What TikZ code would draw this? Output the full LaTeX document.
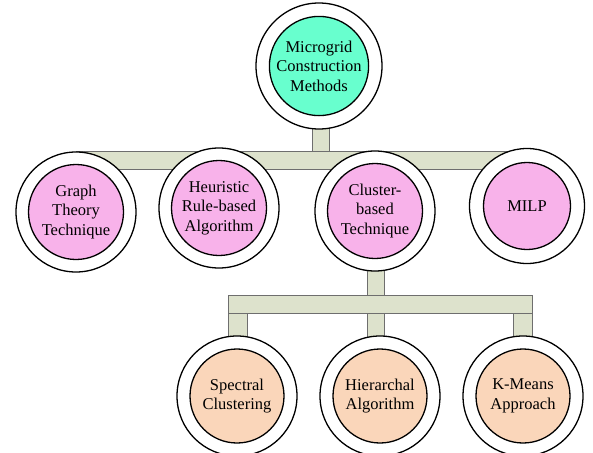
\documentclass[tikz,border=0pt]{standalone}
\usepackage{fontspec}
\setmainfont{Liberation Serif}
\definecolor{topfill}{RGB}{104,255,206}
\definecolor{midfill}{RGB}{248,178,234}
\definecolor{lowfill}{RGB}{250,214,186}
\definecolor{barfill}{RGB}{221,226,204}
\definecolor{barline}{RGB}{110,110,110}
\tikzset{
  ring/.style={circle, draw=black, line width=1.3pt, fill=white, inner sep=0pt},
  core/.style={circle, draw=black, line width=1.3pt, inner sep=0pt, align=center,
    font=\fontsize{16.5}{19.5}\selectfont, text=black},
  barpart/.style={fill=barfill, draw=barline, line width=0.8pt},
}
\begin{document}
\begin{tikzpicture}[x=1pt,y=-1pt]
\useasboundingbox (0,0) rectangle (593,452);

% connectors: stems and cross bars
\draw[barpart] (312,120) rectangle (329,152);
\draw[barpart] (76,151) rectangle (527,169);
\draw[barpart] (367,260) rectangle (384,295);
\draw[barpart] (228,313) rectangle (247,345);
\draw[barpart] (367,313) rectangle (384,345);
\draw[barpart] (513,313) rectangle (532,345);
\draw[barpart] (228,295) rectangle (532,313);

% root
\node[ring, minimum size=126pt] (rootR) at (319,66) {};
\node[core, fill=topfill, minimum size=88pt] (root) at (319,66) {Microgrid\\Construction\\Methods};

% second level
\node[ring, minimum size=120pt] (graphR) at (76,212) {};
\node[core, fill=midfill, minimum size=95pt] (graph) at (76,212) {Graph\\Theory\\Technique};
\node[ring, minimum size=120pt] (heurR) at (219,208) {};
\node[core, fill=midfill, minimum size=95pt] (heur) at (219,208) {Heuristic\\Rule-based\\Algorithm};
\node[ring, minimum size=120pt] (clusR) at (375,211) {};
\node[core, fill=midfill, minimum size=95pt] (clus) at (375,211) {Cluster-\\based\\Technique};
\node[ring, minimum size=115pt] (milpR) at (527,206) {};
\node[core, fill=midfill, minimum size=87pt] (milp) at (527,206) {MILP};

% third level
\node[ring, minimum size=120pt] (specR) at (237,396) {};
\node[core, fill=lowfill, minimum size=94pt] (spec) at (237,396) {Spectral\\Clustering};
\node[ring, minimum size=120pt] (hierR) at (380,396) {};
\node[core, fill=lowfill, minimum size=94pt] (hier) at (380,396) {Hierarchal\\Algorithm};
\node[ring, minimum size=120pt] (kmR) at (523,396) {};
\node[core, fill=lowfill, minimum size=94pt] (km) at (523,396) {K-Means\\Approach};
\end{tikzpicture}
\end{document}
